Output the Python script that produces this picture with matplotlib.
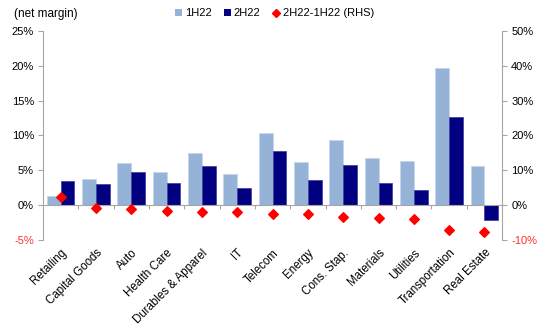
import matplotlib.pyplot as plt
from matplotlib.lines import Line2D
from matplotlib.patches import Patch
from matplotlib.ticker import FuncFormatter

plt.rcParams["font.family"] = ["Liberation Sans", "DejaVu Sans"]

sectors = ["Retailing", "Capital Goods", "Auto", "Health Care",
           "Durables & Apparel", "IT", "Telecom", "Energy", "Cons. Stap.",
           "Materials", "Utilities", "Transportation", "Real Estate"]
margin_1h22 = [1.3, 3.8, 6.0, 4.8, 7.5, 4.4, 10.3, 6.2, 9.3, 6.7, 6.3, 19.7, 5.6]
margin_2h22 = [3.5, 3.0, 4.8, 3.2, 5.6, 2.4, 7.8, 3.6, 5.8, 3.1, 2.2, 12.6, -2.1]
margin_chg = [2.2, -0.8, -1.2, -1.6, -1.9, -2.0, -2.5, -2.6, -3.5, -3.6, -4.1, -7.1, -7.7]

c_1h = "#95b3d7"
c_2h = "#000080"
c_diff = "#ff0000"
axis_grey = "#a6a6a6"

fig = plt.figure(figsize=(5.5, 3.36), dpi=100)
ax = fig.add_axes([0.078, 0.286, 0.835, 0.622])
ax2 = ax.twinx()

x = list(range(len(sectors)))
w = 0.39
ax.bar([i - w / 2 for i in x], margin_1h22, width=w, color=c_1h,
       edgecolor="#c5d5ea", linewidth=0.5, zorder=2)
ax.bar([i + w / 2 for i in x], margin_2h22, width=w, color=c_2h,
       edgecolor="#3a3a9a", linewidth=0.5, zorder=2)
ax2.scatter(x, margin_chg, marker="D", s=24, color=c_diff, zorder=3)

ax.set_xlim(-0.5, len(sectors) - 0.5)
ax.set_ylim(-5, 25)
ax2.set_ylim(-10, 50)
ax.set_yticks(range(-5, 26, 5))
ax2.set_yticks(range(-10, 51, 10))
pct = FuncFormatter(lambda v, p: f"{v:.0f}%")
ax.yaxis.set_major_formatter(pct)
ax2.yaxis.set_major_formatter(pct)

for a in (ax, ax2):
    a.spines["top"].set_visible(False)
    for s in ("left", "right", "bottom"):
        a.spines[s].set_color(axis_grey)
        a.spines[s].set_linewidth(0.8)
    a.tick_params(axis="y", colors=axis_grey, length=3.5, width=0.8,
                  labelsize=8, labelcolor="black", pad=3)
ax2.spines["bottom"].set_visible(False)
ax2.spines["left"].set_visible(False)
ax.spines["right"].set_visible(False)

# negative percentages in red
ax.get_yticklabels()[0].set_color("#ff3030")
ax2.get_yticklabels()[0].set_color("#ff3030")

# category axis crosses at zero, ticks between categories
ax.spines["bottom"].set_position(("data", 0))
ax.set_xticks([])
ax.set_xticks([i + 0.5 for i in x[:-1]], minor=True)
ax.tick_params(axis="x", which="minor", direction="out", length=3,
               width=0.8, colors=axis_grey)

sec = ax.secondary_xaxis("bottom")
sec.set_xticks(x)
sec.set_xticklabels(sectors, rotation=45, ha="right",
                    rotation_mode="anchor", fontsize=8.3)
sec.tick_params(length=0, pad=5)
sec.spines["bottom"].set_visible(False)

fig.text(0.025, 0.958, "(net margin)", fontsize=8.5, va="center")
handles = [
    Patch(facecolor=c_1h, label="1H22"),
    Patch(facecolor=c_2h, label="2H22"),
    Line2D([], [], marker="D", color=c_diff, linestyle="none",
           markersize=4, label="2H22-1H22 (RHS)"),
]
fig.legend(handles=handles, ncol=3, loc="center left",
           bbox_to_anchor=(0.308, 0.96), frameon=False, fontsize=8,
           handlelength=0.6, handleheight=0.6, handletextpad=0.3,
           columnspacing=1.1, borderpad=0)

fig.savefig("out.png", dpi=100)
